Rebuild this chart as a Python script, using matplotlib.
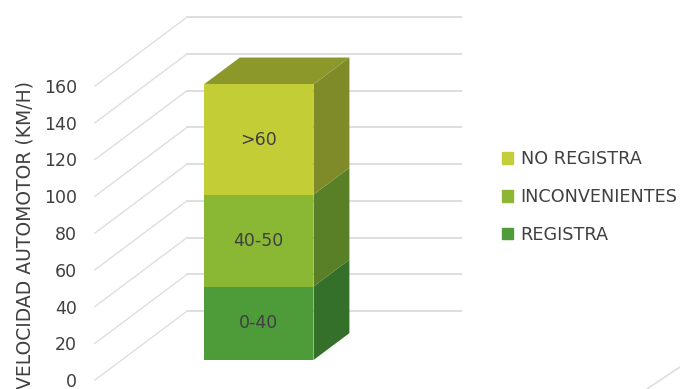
import numpy as np
import matplotlib.pyplot as plt
from matplotlib.patches import Polygon, Patch
from matplotlib.lines import Line2D

# --- DATA ---
series_names = ['REGISTRA', 'INCONVENIENTES', 'NO REGISTRA']
segment_values = [40, 50, 60]
segment_labels = ['0-40', '40-50', '>60']
y_ticks = [0, 20, 40, 60, 80, 100, 120, 140, 160]

# --- STYLE ---
front_colors = ['#4e9b3a', '#8ab834', '#c3cd36']
side_colors = ['#35702a', '#5a8027', '#7f8a28']
top_color = '#8c9829'
legend_colors = ['#4f9c3b', '#8db635', '#c4cd3a']
grid_color = '#dedede'
text_color = '#404040'

# oblique "3D": shift for a full unit of depth, in data units
DX, DY = 0.336, 37.5
D_FRONT, D_BACK = 0.29, 0.68
BAR_X, BAR_W = 0.5, 0.4


def proj(x, v, d):
    return x + DX * d, v + DY * d


fig = plt.figure(figsize=(6.8, 3.89), dpi=100)
ax = fig.add_axes([95 / 680, 9 / 389, 274 / 680, 294 / 389])
ax.set_xlim(0, 1)
ax.set_ylim(0, 160)
for s in ax.spines.values():
    s.set_visible(False)
ax.set_xticks([])
ax.set_yticks(y_ticks)
ax.tick_params(axis='y', length=0, pad=13, labelsize=12.5, labelcolor=text_color)

# side wall + back wall gridlines
for v in y_ticks:
    x0, y0 = proj(0, v, 0)
    x1, y1 = proj(0, v, 1)
    x2, y2 = proj(1, v, 1)
    ax.plot([x0, x1], [y0, y1], color=grid_color, lw=1.0,
            clip_on=False, zorder=1)
    ax.plot([x1, x2], [y1, y2], color=grid_color, lw=1.4,
            clip_on=False, zorder=1)

# stacked bar
vals = np.array(segment_values)
bottoms = np.concatenate([[0], np.cumsum(vals)[:-1]])
tops = bottoms + vals
fx, fy = proj(BAR_X, 0, D_FRONT)
ax.bar(fx, vals, width=BAR_W, bottom=bottoms + fy, color=front_colors,
       zorder=3, clip_on=False)

xl, xr = BAR_X - BAR_W / 2, BAR_X + BAR_W / 2
for b, t, c in zip(bottoms, tops, side_colors):
    pts = [proj(xr, b, D_FRONT), proj(xr, b, D_BACK),
           proj(xr, t, D_BACK), proj(xr, t, D_FRONT)]
    ax.add_patch(Polygon(pts, closed=True, facecolor=c, edgecolor='none',
                         zorder=2, clip_on=False))
T = tops[-1]
top_pts = [proj(xl, T, D_FRONT), proj(xr, T, D_FRONT),
           proj(xr, T, D_BACK), proj(xl, T, D_BACK)]
ax.add_patch(Polygon(top_pts, closed=True, facecolor=top_color,
                     edgecolor='none', zorder=2, clip_on=False))

# data labels
for b, h, lab in zip(bottoms, vals, segment_labels):
    ax.text(fx, fy + b + h / 2, lab, ha='center', va='center',
            fontsize=12.5, color=text_color, zorder=4)

fig.text(25 / 680, 1 - 81 / 389, 'VELOCIDAD AUTOMOTOR (KM/H)', rotation=90,
         ha='center', va='top', fontsize=13.5, color=text_color)

handles = [Patch(color=c, label=n) for c, n in zip(legend_colors, series_names)][::-1]
fig.legend(handles=handles, loc='center left',
           bbox_to_anchor=(502 / 680, 1 - 197 / 389), frameon=False,
           fontsize=12.7, labelcolor=text_color, handlelength=0.65,
           handleheight=0.65, handletextpad=0.4, labelspacing=1.12,
           borderpad=0, borderaxespad=0)

# faint edge at the lower right corner
fig.add_artist(Line2D([647 / 680, 1], [0, 22 / 389], color=grid_color, lw=1.2,
                      transform=fig.transFigure))

fig.savefig('out.png', dpi=100)
